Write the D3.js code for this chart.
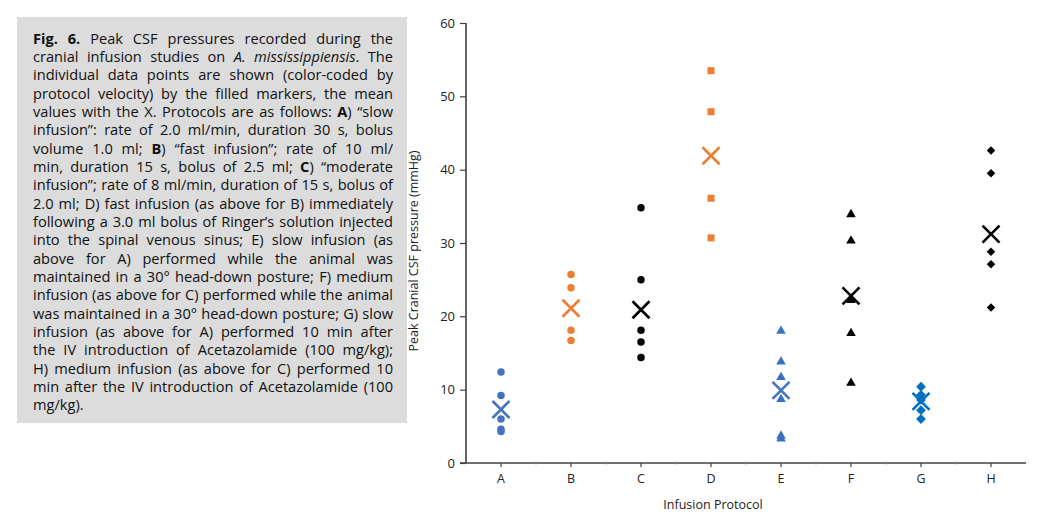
<!DOCTYPE html>
<html>
<head>
<meta charset="utf-8">
<script src="https://cdn.jsdelivr.net/npm/d3@7"></script>
<style>
  html, body { margin: 0; padding: 0; background: #fff; }
  svg { display: block; }
</style>
</head>
<body>
<svg id="chart" width="1056" height="523"></svg>
<script>
// ---------------- data ----------------
const categories = ["A", "B", "C", "D", "E", "F", "G", "H"];
const yTicks = [0, 10, 20, 30, 40, 50, 60];
const pointsA = [12.4, 9.2, 6.0, 4.6, 4.3];
const pointsB = [25.7, 23.9, 18.1, 16.7];
const pointsC = [34.8, 25.0, 18.1, 16.5, 14.4];
const pointsD = [53.5, 47.9, 36.1, 30.7];
const pointsE = [18.0, 13.8, 11.7, 8.7, 3.7, 3.3];
const pointsF = [33.9, 30.3, 22.2, 17.7, 10.9];
const pointsG = [10.4, 9.3, 8.6, 7.2, 6.0];
const pointsH = [42.6, 39.5, 28.8, 27.1, 21.2];
const meanValues = [7.3, 21.1, 20.9, 41.9, 9.9, 22.8, 8.4, 31.2];
const xTitle = "Infusion Protocol";
const yTitle = "Peak Cranial CSF pressure (mmHg)";
const captionLines = [
  "*Fig. 6.* Peak CSF pressures recorded during the",
  "cranial infusion studies on _A. mississippiensis_. The",
  "individual data points are shown (color-coded by",
  "protocol velocity) by the filled markers, the mean",
  "values with the X. Protocols are as follows: *A*) “slow",
  "infusion”: rate of 2.0 ml/min, duration 30 s, bolus",
  "volume 1.0 ml; *B*) “fast infusion”; rate of 10 ml/",
  "min, duration 15 s, bolus of 2.5 ml; *C*) “moderate",
  "infusion”; rate of 8 ml/min, duration of 15 s, bolus of",
  "2.0 ml; D) fast infusion (as above for B) immediately",
  "following a 3.0 ml bolus of Ringer’s solution injected",
  "into the spinal venous sinus; E) slow infusion (as",
  "above for A) performed while the animal was",
  "maintained in a 30° head-down posture; F) medium",
  "infusion (as above for C) performed while the animal",
  "was maintained in a 30° head-down posture; G) slow",
  "infusion (as above for A) performed 10 min after",
  "the IV introduction of Acetazolamide (100 mg/kg);",
  "H) medium infusion (as above for C) performed 10",
  "min after the IV introduction of Acetazolamide (100",
  "mg/kg)."
];

// ---------------- styles ----------------
const seriesPoints = [pointsA, pointsB, pointsC, pointsD, pointsE, pointsF, pointsG, pointsH];
const seriesStyle = {
  A: { color: "#4472C4", shape: "circle" },
  B: { color: "#ED7D31", shape: "circle" },
  C: { color: "#000000", shape: "circle" },
  D: { color: "#ED7D31", shape: "square" },
  E: { color: "#3A70C4", shape: "triangle" },
  F: { color: "#000000", shape: "triangle" },
  G: { color: "#0070C0", shape: "diamond" },
  H: { color: "#000000", shape: "diamond" }
};
const meanColor = { A: "#4472C4", B: "#ED7D31", C: "#000000", D: "#ED7D31",
                    E: "#4472C4", F: "#000000", G: "#0070C0", H: "#000000" };

const svg = d3.select("#chart");

// ---------------- caption box ----------------
const box = { x: 17, y: 17, w: 390, h: 406 };
svg.append("rect").attr("x", box.x).attr("y", box.y).attr("width", box.w).attr("height", box.h)
  .attr("fill", "#dcdcdc");

const textLeft = 33, textRight = 393, textW = textRight - textLeft;
const capFont = "'Open Sans', 'Noto Sans', sans-serif";

function parseLine(str) {
  let bold = false, ital = false;
  const chars = [];
  for (const ch of str) {
    if (ch === "*") { bold = !bold; continue; }
    if (ch === "_") { ital = !ital; continue; }
    chars.push({ c: ch, b: bold, i: ital });
  }
  const words = [];
  let cur = [];
  for (const o of chars) {
    if (o.c === " ") { if (cur.length) { words.push(cur); cur = []; } continue; }
    cur.push(o);
  }
  if (cur.length) words.push(cur);
  return words.map(w => {
    const runs = [];
    for (const o of w) {
      const last = runs[runs.length - 1];
      if (last && last.b === o.b && last.i === o.i) last.t += o.c;
      else runs.push({ t: o.c, b: o.b, i: o.i });
    }
    return runs;
  });
}

const capG = svg.append("g").attr("fill", "#111");
function makeWord(runs, size) {
  const t = capG.append("text").attr("font-family", capFont).attr("font-size", size);
  runs.forEach(r => {
    t.append("tspan").text(r.t)
      .attr("font-weight", r.b ? "bold" : "normal")
      .attr("font-style", r.i ? "italic" : "normal");
  });
  return t;
}

const parsed = captionLines.map(parseLine);
const refSize = 100;
let maxNatural = 0;
const measure = capG.append("text").attr("font-family", capFont).attr("font-size", refSize);
const spaceW = (function () {
  measure.text("a a"); const w1 = measure.node().getComputedTextLength();
  measure.text("aa"); const w2 = measure.node().getComputedTextLength();
  return w1 - w2;
})();
parsed.forEach((words, li) => {
  if (li === parsed.length - 1) return;
  let sum = 0;
  words.forEach(w => { const t = makeWord(w, refSize); sum += t.node().getComputedTextLength(); t.remove(); });
  sum += spaceW * 0.7 * (words.length - 1);
  maxNatural = Math.max(maxNatural, sum);
});
measure.remove();
const capSize = Math.min(14.6, textW / maxNatural * refSize);

parsed.forEach((words, li) => {
  const baseline = 43.5 + 18.34 * li;
  const els = words.map(w => makeWord(w, capSize).attr("y", baseline));
  const widths = els.map(e => e.node().getComputedTextLength());
  const total = d3.sum(widths);
  const last = li === parsed.length - 1;
  const gap = (last || words.length < 2) ? spaceW * capSize / refSize : (textW - total) / (words.length - 1);
  let x = textLeft;
  els.forEach((e, i) => { e.attr("x", x); x += widths[i] + gap; });
});

// ---------------- chart ----------------
const plot = { left: 466, right: 1026, top: 23, bottom: 463 };
const x = d3.scaleBand().domain(categories).range([plot.left, plot.right]).padding(0);
const y = d3.scaleLinear().domain([0, 60]).range([plot.bottom, plot.top]);
const labelFont = "'Open Sans', 'Noto Sans', sans-serif";
const axisColor = "#3f3f3f";

// y axis
const yAxis = svg.append("g").attr("transform", `translate(${plot.left},0)`)
  .call(d3.axisLeft(y).tickValues(yTicks).tickSize(6).tickPadding(5).tickFormat(d3.format("d")));
yAxis.select(".domain").attr("stroke", axisColor).attr("stroke-width", 1.6)
  .attr("d", `M0,${plot.top}V${plot.bottom}`);
yAxis.selectAll(".tick line").attr("stroke", axisColor).attr("stroke-width", 1.2);
yAxis.selectAll(".tick text").attr("font-family", labelFont).attr("font-size", 13).attr("fill", "#222");

// x axis
const xAxis = svg.append("g").attr("transform", `translate(0,${plot.bottom})`)
  .call(d3.axisBottom(x).tickSize(4).tickPadding(7));
xAxis.select(".domain").attr("stroke", axisColor).attr("stroke-width", 1.6)
  .attr("d", `M${plot.left - 6},0H${plot.right}`);
xAxis.selectAll(".tick line").attr("stroke", axisColor).attr("stroke-width", 1.2);
xAxis.selectAll(".tick text").attr("font-family", labelFont).attr("font-size", 12.5).attr("fill", "#222");
xAxis.selectAll("line.bnd").data(categories.slice(1)).enter().append("line")
  .attr("class", "bnd")
  .attr("x1", d => x(d)).attr("x2", d => x(d)).attr("y1", -1.5).attr("y2", 1.5)
  .attr("stroke", "#888").attr("stroke-width", 1);

// titles
svg.append("text").attr("x", 713).attr("y", 509)
  .attr("text-anchor", "middle").attr("font-family", labelFont).attr("font-size", 12.5)
  .attr("fill", "#222").text(xTitle);
svg.append("text").attr("transform", `translate(418,${(plot.top + plot.bottom) / 2 + 8}) rotate(-90)`)
  .attr("text-anchor", "middle").attr("font-family", labelFont).attr("font-size", 12.5)
  .attr("fill", "#222").text(yTitle);

// markers
const diamondType = {
  draw(ctx, size) {
    const r = Math.sqrt(size / 2);
    ctx.moveTo(0, -r); ctx.lineTo(r, 0); ctx.lineTo(0, r); ctx.lineTo(-r, 0); ctx.closePath();
  }
};
const symbolOf = {
  circle: d3.symbol().type(d3.symbolCircle).size(44),
  square: d3.symbol().type(d3.symbolSquare).size(49),
  triangle: d3.symbol().type(d3.symbolTriangle).size(40),
  diamond: d3.symbol().type(diamondType).size(36)
};
const sizeOverride = { G: 48 };

const pts = [];
categories.forEach((c, i) => seriesPoints[i].forEach(v => pts.push({ c, v })));
const cx = c => x(c) + x.bandwidth() / 2;

svg.append("g").selectAll("path.pt").data(pts).enter().append("path")
  .attr("class", "pt")
  .attr("transform", d => `translate(${cx(d.c)},${y(d.v)})`)
  .attr("d", d => {
    const st = seriesStyle[d.c];
    const s = symbolOf[st.shape];
    return sizeOverride[d.c] ? d3.symbol().type(diamondType).size(sizeOverride[d.c])() : s();
  })
  .attr("fill", d => seriesStyle[d.c].color);

// mean X markers
const half = 8.5;
const meanG = svg.append("g").selectAll("g").data(categories.map((c, i) => ({ c, v: meanValues[i] })))
  .enter().append("g").attr("transform", d => `translate(${cx(d.c)},${y(d.v)})`);
meanG.append("path").attr("d", `M${-half},${-half}L${half},${half}M${-half},${half}L${half},${-half}`)
  .attr("stroke", d => meanColor[d.c]).attr("stroke-width", 2.6).attr("fill", "none");
</script>
</body>
</html>
